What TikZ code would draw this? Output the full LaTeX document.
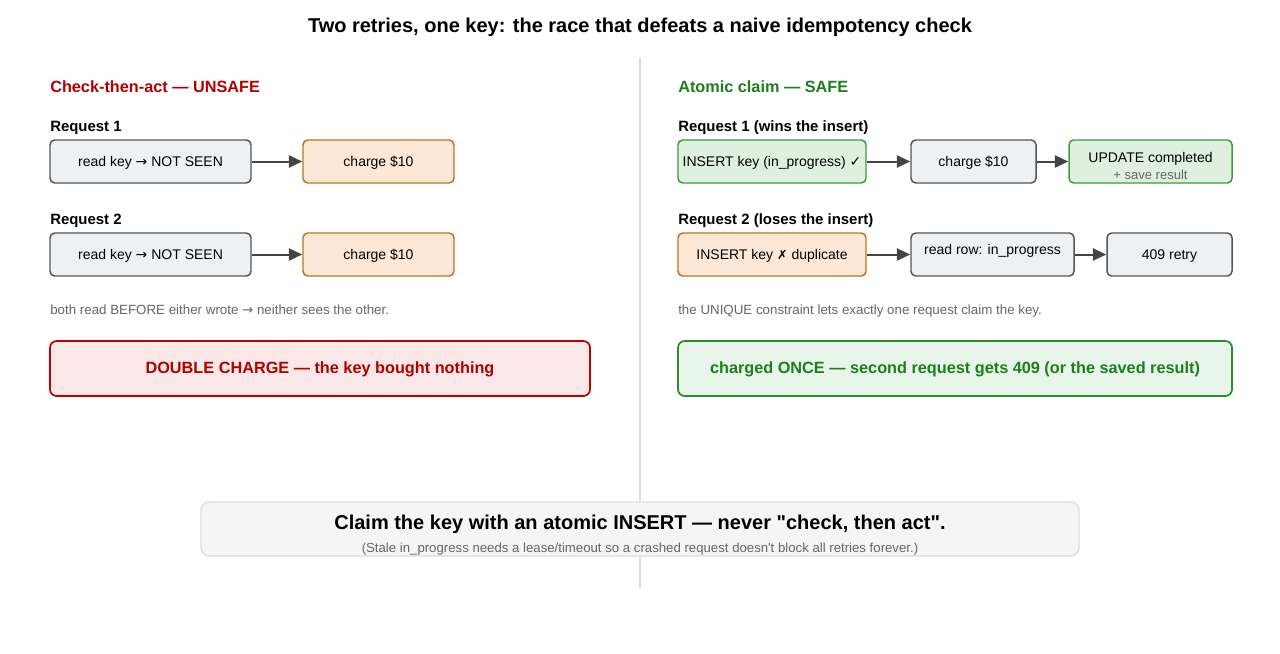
\documentclass[tikz,border=0pt]{standalone}
\usepackage{fontspec}
\setmainfont{Liberation Sans}[Ligatures=TeXOff]
\newfontfamily\symfont{DejaVu Sans}
\usetikzlibrary{arrows.meta}
\definecolor{grayfill}{HTML}{EEF1F4}
\definecolor{grayline}{HTML}{555555}
\definecolor{orfill}{HTML}{FDE7D6}
\definecolor{orline}{HTML}{C4731C}
\definecolor{grfill}{HTML}{DFF0DF}
\definecolor{grline}{HTML}{3E9A3E}
\definecolor{redfill}{HTML}{FAE8E8}
\definecolor{redline}{HTML}{C00000}
\definecolor{redtext}{HTML}{B00000}
\definecolor{gpfill}{HTML}{E8F5E9}
\definecolor{gpline}{HTML}{2E8B2E}
\definecolor{gptext}{HTML}{1E7E1E}
\definecolor{notegray}{HTML}{666666}
\definecolor{divider}{HTML}{DDDDDD}
\definecolor{botfill}{HTML}{F5F5F5}
\definecolor{arrowc}{HTML}{444444}
\newcommand{\rarr}{{\symfont →}}
\tikzset{
  capc/.style={text height=0.716em, text depth=0pt},
  base/.style={capc, rounded corners=3.5pt, line width=1.1pt, minimum height={43*0.75pt}, inner sep=0pt, font=\fontsize{10.5}{12}\selectfont, align=center},
  graybox/.style={base, fill=grayfill, draw=grayline},
  orbox/.style={base, fill=orfill, draw=orline},
  grbox/.style={base, fill=grfill, draw=grline},
  flow/.style={draw=arrowc, line width=1.5pt, -{Triangle[length=10pt,width=9pt]}},
  heading/.style={capc, anchor=west, inner sep=0pt, font=\fontsize{12.2}{14}\selectfont\bfseries},
  reqlabel/.style={capc, anchor=west, inner sep=0pt, font=\fontsize{11.2}{13}\selectfont\bfseries},
  note/.style={capc, anchor=west, inner sep=0pt, text=notegray, font=\fontsize{10}{12}\selectfont},
  plain/.style={capc, inner sep=0pt},
  panel/.style={capc, rounded corners=5pt, line width=1.3pt, minimum height={55*0.75pt}, inner sep=0pt, font=\fontsize{12.2}{14}\selectfont\bfseries}
}
\begin{document}
\begin{tikzpicture}[x=0.75pt,y=-0.75pt]
\useasboundingbox[fill=white] (0,0) rectangle (1280,653);
% title
\node[plain, font=\fontsize{15}{18}\selectfont\bfseries] (title) at (640,27.5) {Two retries, one key: the race that defeats a naive idempotency check};
% divider
\coordinate (dtop) at (640,58);
\coordinate (dbot) at (640,588);
\draw[divider, line width=1pt] (dtop) -- (dbot);

% LEFT
\node[heading, text=redtext] (lh) at (50,88) {Check-then-act — UNSAFE};
\node[reqlabel] (lr1) at (50,126.5) {Request 1};
\node[graybox, minimum width={201*0.75pt}] (l1a) at (150.5,161.5) {read key \rarr{} NOT SEEN};
\node[orbox, minimum width={151*0.75pt}] (l1b) at (378.5,161.5) {charge \$10};
\draw[flow] (l1a) -- (l1b);
\node[reqlabel] (lr2) at (50,219.5) {Request 2};
\node[graybox, minimum width={201*0.75pt}] (l2a) at (150.5,254.5) {read key \rarr{} NOT SEEN};
\node[orbox, minimum width={151*0.75pt}] (l2b) at (378.5,254.5) {charge \$10};
\draw[flow] (l2a) -- (l2b);
\node[note] (ln) at (50,310) {both read BEFORE either wrote \rarr{} neither sees the other.};
\node[panel, fill=redfill, draw=redline, text=redtext, minimum width={540*0.75pt}] (lp) at (320,368.5) {DOUBLE CHARGE — the key bought nothing};

% RIGHT
\node[heading, text=gptext] (rh) at (678,88) {Atomic claim — SAFE};
\node[reqlabel] (rr1) at (678,126.5) {Request 1 (wins the insert)};
\node[grbox, minimum width={188*0.75pt}] (r1a) at (772,161.5) {INSERT key (in\_progress) {\symfont ✓}};
\node[graybox, minimum width={125*0.75pt}] (r1b) at (973.5,161.5) {charge \$10};
\node[grbox, minimum width={163*0.75pt}] (r1c) at (1150.5,161.5) {};
\node[plain, font=\fontsize{10.5}{12}\selectfont] (r1ct) at (1150.5,157.5) {UPDATE completed};
\node[plain, font=\fontsize{9.75}{12}\selectfont, text=notegray] (r1cs) at (1150.5,174.5) {+ save result};
\draw[flow] (r1a) -- (r1b);
\draw[flow] (r1b) -- (r1c);
\node[reqlabel] (rr2) at (678,219.5) {Request 2 (loses the insert)};
\node[orbox, minimum width={188*0.75pt}] (r2a) at (772,254.5) {INSERT key {\symfont\fontsize{9.5}{12}\selectfont ✗} duplicate};
\node[graybox, minimum width={163*0.75pt}] (r2b) at (992.5,254.5) {\raisebox{3.4pt}{read row: in\_progress}};
\node[graybox, minimum width={125*0.75pt}] (r2c) at (1169.5,254.5) {409 retry};
\draw[flow] (r2a) -- (r2b);
\draw[flow] (r2b) -- (r2c);
\node[note] (rn) at (678,310) {the UNIQUE constraint lets exactly one request claim the key.};
\node[panel, fill=gpfill, draw=gpline, text=gptext, minimum width={554*0.75pt}] (rp) at (955,368.5) {charged ONCE — second request gets 409 (or the saved result)};

% bottom takeaway
\node[rounded corners=6pt, fill=botfill, draw=divider, line width=1pt, minimum width={878*0.75pt}, minimum height={54*0.75pt}] (bot) at (640,529) {};
\node[plain, font=\fontsize{15}{18}\selectfont\bfseries] (botmain) at (640,524.5) {Claim the key with an atomic INSERT — never "check, then act".};
\node[plain, font=\fontsize{9.9}{12}\selectfont, text=notegray] (botsub) at (640,548) {(Stale in\_progress needs a lease/timeout so a crashed request doesn't block all retries forever.)};
\end{tikzpicture}
\end{document}
